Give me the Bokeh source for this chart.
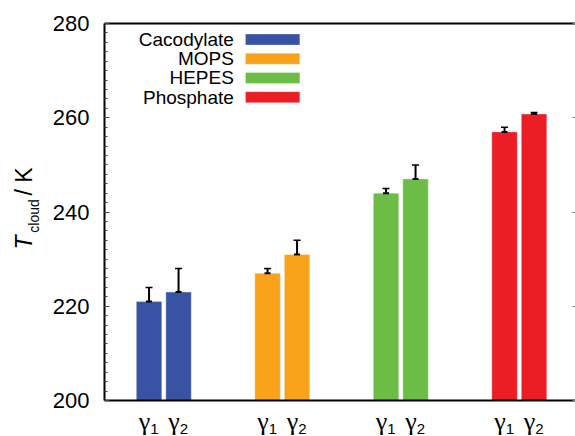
import math
from bokeh.plotting import figure
from bokeh.models import (Range1d, LinearAxis, ColumnDataSource, Whisker, TeeHead,
                          Label, BoxAnnotation, FixedTicker, SingleIntervalTicker)
from bokeh.embed import file_html
from bokeh.resources import INLINE

# ---- data ----
buffers = ["Cacodylate", "MOPS", "HEPES", "Phosphate"]
colors = ["#3953a4", "#f9a31b", "#6bbd45", "#ec1d24"]
gamma1 = [221.0, 227.0, 244.0, 257.0]
gamma1_err = [3.0, 1.0, 1.0, 1.0]
gamma2 = [223.0, 231.0, 247.0, 260.8]
gamma2_err = [5.0, 3.0, 3.0, 0.3]
subscripts = ["1", "2"]
y_ticks = [200, 220, 240, 260, 280]
y_min, y_max = 200, 280

# ---- layout (canvas pixels) ----
W, H = 575, 436
PX_X = 118.5             # pixels per group
X0_PX = 163.3            # pixel column of first group centre
PX_Y = 94.25 / 20.0      # pixels per kelvin
YMIN_PX = 400.0          # pixel row of y_min
OFF = 0.1245
BAR_W = 0.215
SANS = "Liberation Sans"


def dx(px):
    return (px - X0_PX) / PX_X


def dy(py):
    return y_min + (YMIN_PX - py) / PX_Y


x_lo, x_hi = dx(0), dx(W)
y_bot, y_top = dy(H), dy(0)

xs, tops, errs, cols, subs = [], [], [], [], []
for i in range(len(buffers)):
    for k, (vals, ers) in enumerate([(gamma1, gamma1_err), (gamma2, gamma2_err)]):
        xs.append(i + (k - 0.5) * 2 * OFF)
        tops.append(vals[i])
        errs.append(ers[i])
        cols.append(colors[i])
        subs.append(subscripts[k])

src = ColumnDataSource(dict(
    x=xs, top=tops, color=cols,
    upper=[t + e for t, e in zip(tops, errs)],
    lower=[t - e for t, e in zip(tops, errs)],
))

p = figure(width=W, height=H,
           x_range=Range1d(x_lo, x_hi), y_range=Range1d(y_bot, y_top),
           output_backend="svg", toolbar_location=None,
           x_axis_location=None, y_axis_location=None,
           min_border=0)
p.outline_line_color = None
p.grid.visible = False
p.background_fill_color = "white"
p.border_fill_color = "white"

# left axis
left_ax = LinearAxis(fixed_location=-0.5, bounds=(y_min, y_max),
                     ticker=SingleIntervalTicker(interval=20, num_minor_ticks=10),
                     major_tick_in=5, major_tick_out=0,
                     minor_tick_in=3, minor_tick_out=0,
                     axis_line_width=2,
                     major_tick_line_color="#444444", minor_tick_line_color="#444444",
                     major_label_standoff=15, major_label_text_font=SANS,
                     major_label_text_font_size="22px", major_label_text_color="black")
p.add_layout(left_ax, "left")

# bottom spine
bot_ax = LinearAxis(fixed_location=y_min, bounds=(-0.5, x_hi),
                    ticker=FixedTicker(ticks=[]), major_label_text_color=None,
                    axis_line_width=2, major_tick_line_color=None,
                    minor_tick_line_color=None)
p.add_layout(bot_ax, "below")

# top spine
top_ax = LinearAxis(fixed_location=y_max, bounds=(-0.5, x_hi),
                    ticker=FixedTicker(ticks=[]), major_label_text_color=None,
                    axis_line_width=2, major_tick_line_color=None,
                    minor_tick_line_color=None)
p.add_layout(top_ax, "above")

# right ticks only
right_ax = LinearAxis(fixed_location=x_hi, bounds=(y_min, y_max),
                      ticker=FixedTicker(ticks=y_ticks), axis_line_color=None,
                      major_tick_in=3, major_tick_out=0, minor_tick_line_color=None,
                      major_tick_line_color="#777777",
                      major_label_text_color=None, major_label_standoff=0)
p.add_layout(right_ax, "right")

# bars
p.vbar(x="x", top="top", bottom=y_min, width=BAR_W, source=src,
       fill_color="color", line_color="white", line_alpha=0.35, line_width=1)

# error bars
wh = Whisker(source=src, base="x", upper="upper", lower="lower",
             line_width=2, line_color="black",
             upper_head=TeeHead(size=7, line_width=1.5, line_color="black"),
             lower_head=TeeHead(size=7, line_width=1.5, line_color="black"))
p.add_layout(wh)
p.scatter(x="x", y="top", source=src, marker="dash", size=6,
          line_width=2, line_color="black")

# legend (text left of swatch)
leg_y0, leg_dy = 276.6, 4.08
for i, name in enumerate(buffers):
    yy = leg_y0 - i * leg_dy
    p.add_layout(BoxAnnotation(left=0.689, right=1.148, bottom=yy - 1.17, top=yy + 1.17,
                               fill_color=colors[i], fill_alpha=1.0,
                               line_color="white", line_alpha=0.3, line_width=1))
    p.add_layout(Label(x=0.591, y=yy, text=name, text_align="right",
                       text_baseline="middle", text_font=SANS,
                       text_font_size="19px", text_color="black"))

# x labels: gamma with subscripts
for x, s in zip(xs, subs):
    p.add_layout(Label(x=x + 0.01, y=dy(420.5), text="γ", text_align="right",
                       text_baseline="middle", text_font="Liberation Serif",
                       text_font_size="26px", text_color="black"))
    p.add_layout(Label(x=x + 0.01, y=dy(428.0), text=s, text_align="left",
                       text_baseline="middle", text_font=SANS,
                       text_font_size="15px", text_color="black"))

# y axis label: T_cloud / K (rotated, reading upwards)
ang = math.pi / 2
p.add_layout(Label(x=dx(23.8), y=dy(242.0), text="T", angle=ang, text_align="center",
                   text_baseline="middle", text_font=SANS, text_font_style="italic",
                   text_font_size="23px", text_color="black"))
p.add_layout(Label(x=dx(33.0), y=dy(215.5), text="cloud", angle=ang, text_align="center",
                   text_baseline="middle", text_font=SANS,
                   text_font_size="14px", text_color="black"))
p.add_layout(Label(x=dx(23.8), y=dy(181.0), text="/ K", angle=ang, text_align="center",
                   text_baseline="middle", text_font=SANS,
                   text_font_size="23px", text_color="black"))

open("out.html", "w").write(file_html(p, INLINE))
